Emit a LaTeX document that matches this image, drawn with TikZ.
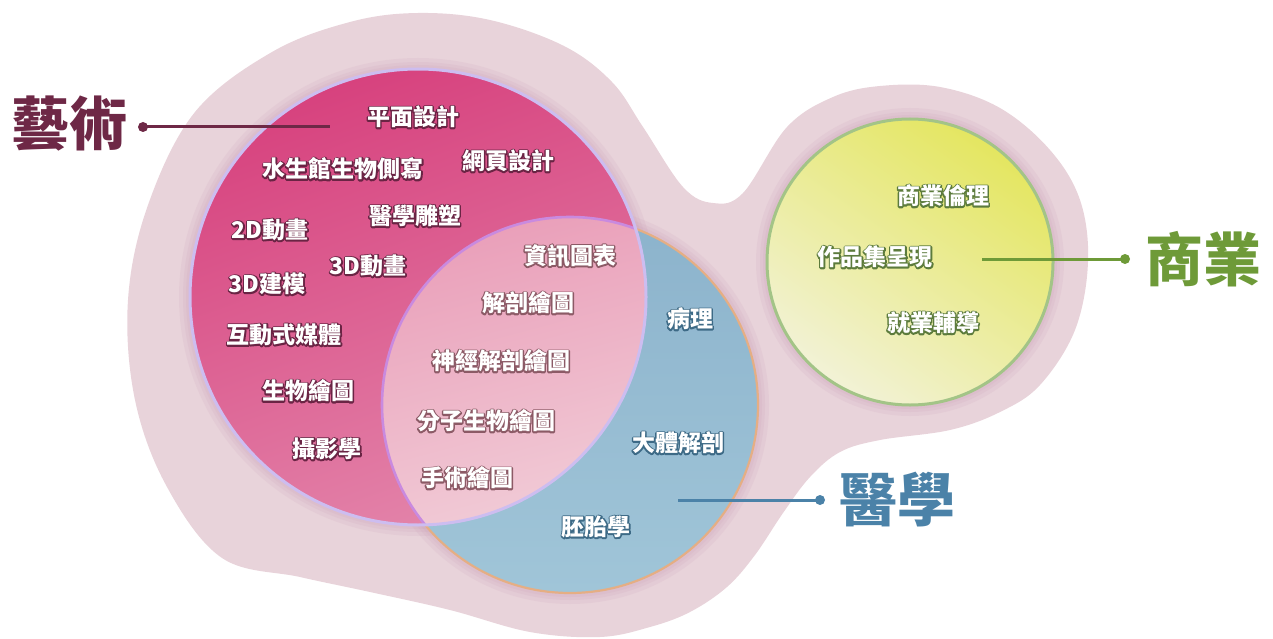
\documentclass[tikz,border=0pt]{standalone}
\usepackage{fontspec}
\newfontfamily\cjk{Noto Sans CJK TC}
\definecolor{blobc}{HTML}{E8D3DA}
\definecolor{haloc}{HTML}{C99AB4}
\definecolor{artTop}{HTML}{D7427E}
\definecolor{artBot}{HTML}{E384AA}
\definecolor{artRim}{HTML}{CDBDF0}
\definecolor{intTop}{HTML}{EAA0BA}
\definecolor{intBot}{HTML}{F3D8DF}
\definecolor{intRim}{HTML}{C98ADF}
\definecolor{medTop}{HTML}{8CB3CC}
\definecolor{medBot}{HTML}{A0C5D8}
\definecolor{medRim}{HTML}{E5AE84}
\definecolor{bizA}{HTML}{E4E660}
\definecolor{bizB}{HTML}{F2F2D6}
\definecolor{bizRim}{HTML}{A3C487}
\definecolor{artTitle}{HTML}{6E2846}
\definecolor{medTitle}{HTML}{4B82A8}
\definecolor{bizTitle}{HTML}{6E9A38}
% outlined text: a stroked copy behind, the white text in front
\newcommand{\olt}[2]{\leavevmode\rlap{\special{pdf:literal direct #1 RG 1 Tr 2.8 w 1 j}#2\special{pdf:literal direct 0 Tr 0.4 w 0 j}}#2}
\newcommand{\artl}[1]{\olt{0.416 0.141 0.267}{#1}}
\newcommand{\intl}[1]{\olt{0.549 0.353 0.400}{#1}}
\newcommand{\medl}[1]{\olt{0.239 0.416 0.525}{#1}}
\newcommand{\bizl}[1]{\olt{0.361 0.482 0.235}{#1}}
\tikzset{
  lbl/.style={font=\cjk\bfseries\fontsize{23}{23}\selectfont, text=white, inner sep=0pt},
  title/.style={font=\cjk\bfseries\fontsize{58}{58}\selectfont, inner sep=0pt},
  dotnode/.style={circle, inner sep=0pt, minimum size=10pt},
  halo/.style={draw=haloc, draw opacity=0.13}
}
\begin{document}
\begin{tikzpicture}[x=1pt,y=-1pt]
\useasboundingbox (0,0) rectangle (1273,639);
% background blob
\fill[blobc] plot[smooth cycle, tension=0.6] coordinates {
 (128,300) (148,205) (195,112) (272,52) (350,22) (418,13) (490,20) (564,46)
 (612,82) (643,127) (683,187) (713,203) (743,193) (787,127) (833,97)
 (880,86) (940,87) (1000,108) (1050,150) (1080,200) (1088,262) (1075,330)
 (1040,385) (1000,412) (950,430) (880,440) (840,452) (810,477) (783,513)
 (755,555) (727,587) (690,612) (650,627) (600,637) (530,632) (450,610)
 (370,592) (300,577) (222,558) (167,487) (135,400)};
% halos
\foreach \w in {22,14,8}{
  \draw[halo, line width=\w pt] (418,297) circle[radius=228pt];
  \draw[halo, line width=\w pt] (570,405) circle[radius=188pt];
  \draw[halo, line width=\w pt] (910,262) circle[radius=143pt];
}
% medicine circle
\shade[top color=medTop, bottom color=medBot] (570,405) circle[radius=188pt];
\draw[medRim, line width=2.2pt] (570,405) circle[radius=188pt];
% art circle
\shade[top color=artTop, bottom color=artBot, shading angle=20] (418,297) circle[radius=228pt];
% intersection
\begin{scope}
  \clip (418,297) circle[radius=228pt];
  \shade[top color=intTop, bottom color=intBot, shading angle=15] (570,405) circle[radius=188pt];
  \draw[intRim, line width=2.6pt] (570,405) circle[radius=188pt];
\end{scope}
\draw[artRim, line width=3pt] (418,297) circle[radius=228pt];
% business circle
\shade[top color=bizA, bottom color=bizB, shading angle=-35] (910,262) circle[radius=143pt];
\draw[bizRim, line width=3pt] (910,262) circle[radius=143pt];

% art labels
\node[lbl] (a1) at (413,117) {\artl{平面設計}};
\node[lbl] (a2) at (508,161) {\artl{網頁設計}};
\node[lbl] (a3) at (343,169) {\artl{水生館生物側寫}};
\node[lbl] (a4) at (415,216) {\artl{醫學雕塑}};
\node[lbl] (a5) at (270,230) {\artl{2D動畫}};
\node[lbl] (a6) at (368,266) {\artl{3D動畫}};
\node[lbl] (a7) at (267,284) {\artl{3D建模}};
\node[lbl] (a8) at (284,335) {\artl{互動式媒體}};
\node[lbl] (a9) at (308,391) {\artl{生物繪圖}};
\node[lbl] (a10) at (327,449) {\artl{攝影學}};
% intersection labels
\node[lbl] (i1) at (570,256) {\intl{資訊圖表}};
\node[lbl] (i2) at (528,303) {\intl{解剖繪圖}};
\node[lbl] (i3) at (501,361) {\intl{神經解剖繪圖}};
\node[lbl] (i4) at (486,421) {\intl{分子生物繪圖}};
\node[lbl] (i5) at (467,478) {\intl{手術繪圖}};
% medicine labels
\node[lbl] (m1) at (690,319) {\medl{病理}};
\node[lbl] (m2) at (678,443) {\medl{大體解剖}};
\node[lbl] (m3) at (596,527) {\medl{胚胎學}};
% business labels
\node[lbl] (b1) at (943,196) {\bizl{商業倫理}};
\node[lbl] (b2) at (875,257) {\bizl{作品集呈現}};
\node[lbl] (b3) at (933,323) {\bizl{就業輔導}};

% titles and pointers
\node[title, text=artTitle] (art) at (69,124) {藝術};
\node[dotnode, fill=artTitle] (artdot) at (143,127) {};
\coordinate (artend) at (330,127);
\draw[artTitle, line width=3pt] (artdot.center) -- (artend);

\node[title, text=bizTitle] (biz) at (1203,259) {商業};
\node[dotnode, fill=bizTitle] (bizdot) at (1125,259) {};
\coordinate (bizend) at (982,259);
\draw[bizTitle, line width=3pt] (bizdot.center) -- (bizend);

\node[title, text=medTitle] (med) at (897,500) {醫學};
\node[dotnode, fill=medTitle] (meddot) at (820,500) {};
\coordinate (medend) at (678,500);
\draw[medTitle, line width=3pt] (meddot.center) -- (medend);
\end{tikzpicture}
\end{document}
